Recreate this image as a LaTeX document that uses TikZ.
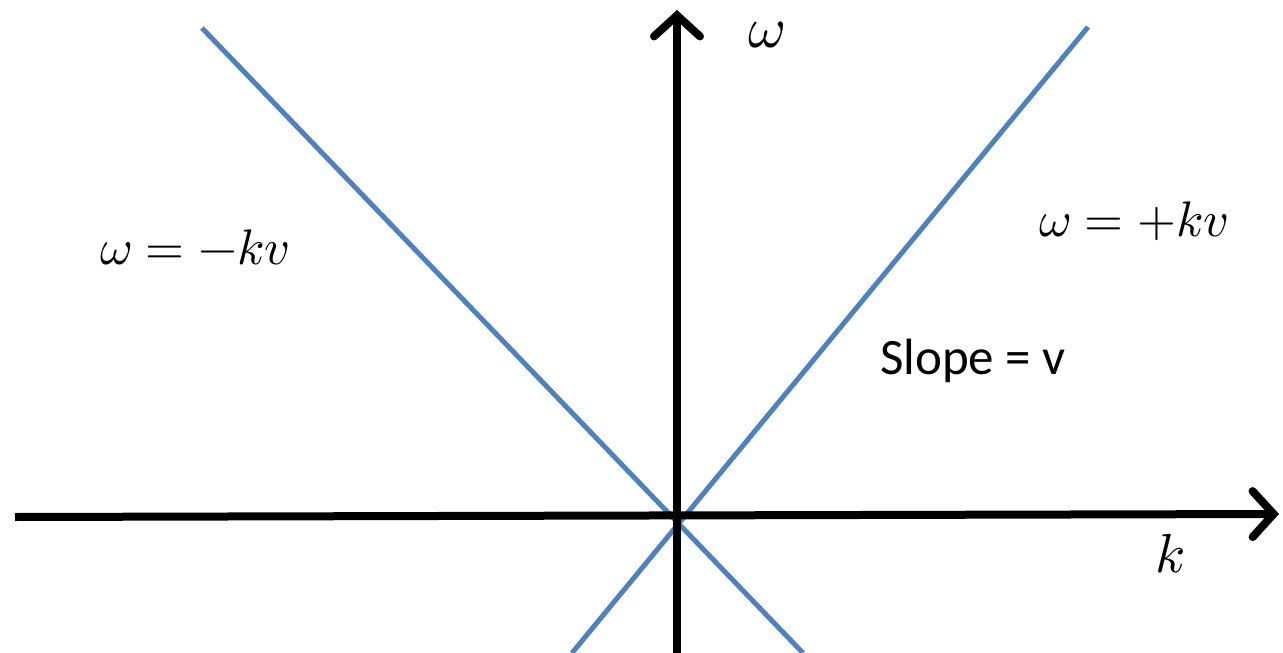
\documentclass[tikz,border=0pt]{standalone}
\usepackage{fontspec}
\usepackage{unicode-math}
\setmathfont{Latin Modern Math}
\newfontfamily\calib{Carlito}
\usetikzlibrary{arrows.meta}
\definecolor{lineblue}{RGB}{79,129,189}
\tikzset{
  axisline/.style={line width=8pt, black, -{Straight Barb[length=21pt, width=46pt, line cap=round, line width=8pt]}},
  bluel/.style={line width=5pt, lineblue},
  mathlbl/.style={anchor=base west, inner sep=0pt, font=\fontsize{50}{60}\selectfont},
  textlbl/.style={anchor=base west, inner sep=0pt, font=\calib\fontsize{51}{60}\selectfont}
}
\begin{document}
\begin{tikzpicture}[x=1pt,y=-1pt]
\useasboundingbox (0,0) rectangle (1283,653);
\coordinate (b1s) at (202,28);
\coordinate (b1e) at (803,653);
\coordinate (b2s) at (1088,27);
\coordinate (b2e) at (572,653);
\draw[bluel] (b1s) -- (b1e);
\draw[bluel] (b2s) -- (b2e);
\coordinate (xl) at (15,517);
\coordinate (xr) at (1279,514);
\coordinate (yb) at (677,653);
\coordinate (yt) at (677,10);
\draw[axisline] (xl) -- (xr);
\draw[axisline] (yb) -- (yt);
\node[mathlbl, font=\fontsize{58}{66}\selectfont] (wlab) at (748,47) {$\omega$};
\node[mathlbl, font=\fontsize{55}{64}\selectfont] (klab) at (1155,572) {$k$};
\node[mathlbl] (neg) at (100,264) {$\omega=-kv$};
\node[mathlbl] (pos) at (1039,236) {$\omega=+kv$};
\node[textlbl] (slope) at (880,374) {Slope = v};
\end{tikzpicture}
\end{document}
